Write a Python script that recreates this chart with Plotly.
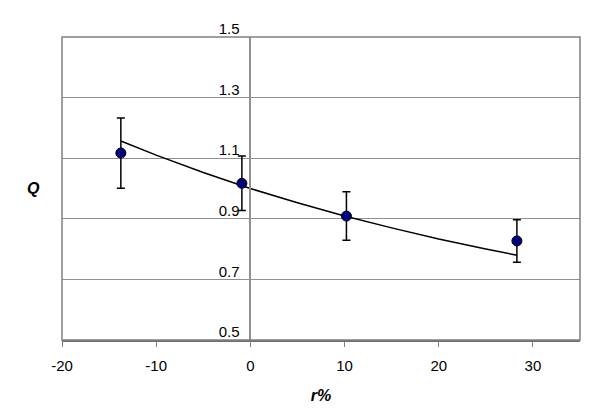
import plotly.graph_objects as go

# Data
r_pct = [-13.75, -0.9, 10.2, 28.3]
q_vals = [1.117, 1.017, 0.909, 0.827]
q_err = [0.116, 0.090, 0.080, 0.070]

# Trend curve
curve_x = [-13.75, -10, -5, 0, 5, 10, 15, 20, 25, 28.3]
curve_y = [1.157, 1.110, 1.053, 1.000, 0.953, 0.909, 0.870, 0.833, 0.800, 0.780]

x_ticks = [-20, -10, 0, 10, 20, 30]
x_tick_text = ["-20", "-10", "0", "10", "20", "30"]
y_ticks = [0.5, 0.7, 0.9, 1.1, 1.3, 1.5]
y_tick_text = ["0.5", "0.7", "0.9", "1.1", "1.3", "1.5"]

FONT = "Liberation Sans, Arial, sans-serif"

fig = go.Figure()
fig.add_trace(go.Scatter(
    x=curve_x, y=curve_y, mode="lines",
    line=dict(color="black", width=1.5), hoverinfo="skip", showlegend=False))
fig.add_trace(go.Scatter(
    x=r_pct, y=q_vals, mode="markers",
    marker=dict(color="#000080", size=10, line=dict(color="black", width=1)),
    error_y=dict(type="data", array=q_err, visible=True, color="black",
                 thickness=1.5, width=4),
    showlegend=False))

# plot border (left, top, right)
fig.add_shape(type="rect", xref="x domain", yref="y domain",
              x0=0, x1=1, y0=0, y1=1, line=dict(color="#808080", width=1.5),
              layer="above")

fig.update_layout(
    width=600, height=420,
    margin=dict(l=54, r=28, t=24, b=88),
    paper_bgcolor="white", plot_bgcolor="white",
    font=dict(family=FONT, size=15, color="black"),
    xaxis=dict(
        range=[-20, 35], tickvals=x_ticks, ticktext=x_tick_text,
        ticks="outside", ticklen=5, ticklabelstandoff=6,
        tickcolor="#808080", showline=True, linecolor="#707070", linewidth=1.5,
        showgrid=False, zeroline=False,
        title=dict(text="<b><i>r%</i></b>", standoff=17, font=dict(size=16)),
    ),
    yaxis=dict(
        range=[0.5, 1.5], tickvals=y_ticks, ticktext=y_tick_text,
        anchor="free", position=20 / 55, showline=True, linecolor="#909090",
        linewidth=1.5, showgrid=True, gridcolor="#909090", gridwidth=1,
        zeroline=False, ticks="", ticklabelshift=-8, ticklabelstandoff=7,
    ),
    annotations=[dict(text="<b><i>Q</i></b>", xref="paper", yref="paper",
                      x=0, y=0.5, xshift=-29, showarrow=False,
                      xanchor="center", yanchor="middle", font=dict(size=16))],
)

fig.write_html("out.html")
